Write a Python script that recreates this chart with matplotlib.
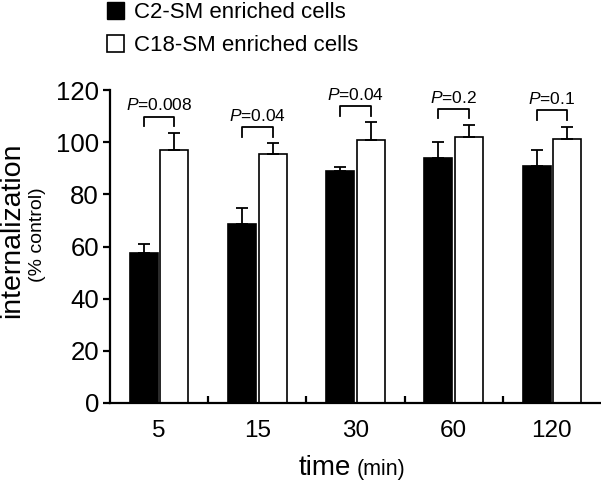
import matplotlib
matplotlib.use("Agg")
import matplotlib.pyplot as plt
from matplotlib.patches import Patch
import numpy as np

plt.rcParams['font.family'] = ['Liberation Sans', 'DejaVu Sans']
plt.rcParams['mathtext.fontset'] = 'custom'
plt.rcParams['mathtext.it'] = 'Liberation Sans:italic'
plt.rcParams['mathtext.rm'] = 'Liberation Sans'

times = ["5", "15", "30", "60", "120"]
c2_mean = [57.6, 68.5, 89.0, 93.9, 90.7]
c2_err = [3.2, 6.3, 1.5, 6.0, 6.3]
c18_mean = [97.0, 95.3, 100.8, 102.0, 101.1]
c18_err = [6.5, 4.2, 6.8, 4.5, 4.8]
p_labels = ["0.008", "0.04", "0.04", "0.2", "0.1"]
series_names = ["C2-SM enriched cells", "C18-SM enriched cells"]

fig = plt.figure(figsize=(6.01, 4.83), dpi=100)
ax = fig.add_axes([110/601, 1-403/483, 491/601, (403-90)/483])

x = np.arange(len(times))
off = 0.155
w = 0.285
lw = 1.6
ax.bar(x - off, c2_mean, w, color='black', edgecolor='black', linewidth=1.2)
ax.bar(x + off, c18_mean, w, color='white', edgecolor='black', linewidth=1.2)
ax.errorbar(x - off, c2_mean, yerr=[np.zeros(len(x)), c2_err], fmt='none',
            ecolor='black', elinewidth=1.3, capsize=4, capthick=1.3)
ax.errorbar(x + off, c18_mean, yerr=[np.zeros(len(x)), c18_err], fmt='none',
            ecolor='black', elinewidth=1.3, capsize=4, capthick=1.3)

for i in range(len(x)):
    top = max(c2_mean[i] + c2_err[i], c18_mean[i] + c18_err[i])
    yb = top + 6.3
    ax.plot([x[i] - off, x[i] - off, x[i] + off, x[i] + off],
            [yb - 3.7, yb, yb, yb - 3.7], color='black', lw=1.3)
    ax.text(x[i], yb + 1.2, r"$\mathit{P}$" + "=" + p_labels[i], ha='center', va='bottom',
            fontsize=12.5)

ax.set_xlim(-0.5, 4.5)
ax.set_ylim(0, 120)
ax.set_yticks(range(0, 121, 20))
ax.tick_params(axis='y', direction='out', length=5, width=lw, labelsize=18.5, pad=3)
ax.set_xticks(x)
ax.set_xticklabels(times)
ax.tick_params(axis='x', length=0, labelsize=17.5, pad=12)
ax.set_xticks(np.arange(0.5, 4.5, 1), minor=True)
ax.tick_params(axis='x', which='minor', direction='in', length=5, width=lw)
for s in ['top', 'right']:
    ax.spines[s].set_visible(False)
for s in ['left', 'bottom']:
    ax.spines[s].set_linewidth(lw)

fig.text(351/601, 1 - 468/483, "time", ha='right', va='center', fontsize=20)
fig.text(357/601, 1 - 470/483, "(min)", ha='left', va='center', fontsize=15.5)
fig.text(12/601, 1 - 230/483, "internalization", rotation=90, ha='center', va='center', fontsize=20.5)
fig.text(37/601, 1 - 235/483, "(% control)", rotation=90, ha='center', va='center', fontsize=14)

handles = [Patch(facecolor='black', edgecolor='black'),
           Patch(facecolor='white', edgecolor='black', linewidth=1.2)]
fig.legend(handles, series_names, loc='upper left', bbox_to_anchor=(106/601, 1 - 1/483),
           frameon=False, fontsize=16, handlelength=0.75, handleheight=0.75,
           handletextpad=0.45, labelspacing=0.55, borderaxespad=0.0, borderpad=0.05)

fig.savefig("out.png", dpi=100)
